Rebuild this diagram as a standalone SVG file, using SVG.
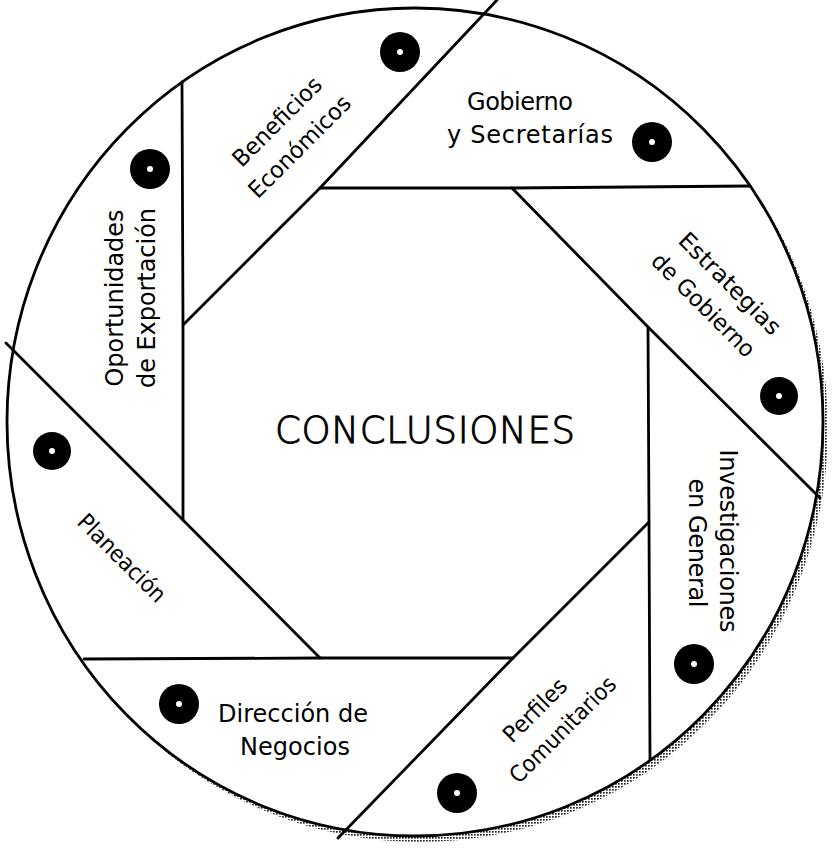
<svg xmlns="http://www.w3.org/2000/svg" width="834" height="848" viewBox="0 0 834 848">
<style>
.ln{fill:none;stroke:#000;stroke-width:2.8;stroke-linecap:round;stroke-linejoin:round}
.disc{fill:#fff;stroke:#000;stroke-width:2.8}
.lbl{font-family:"DejaVu Sans","Liberation Sans",sans-serif;font-size:24px;fill:#000;text-anchor:middle}
.dg{font-size:23px}
.ctr{font-family:"DejaVu Sans","Liberation Sans",sans-serif;font-size:37px;font-weight:200;fill:#000;stroke:#000;stroke-width:0.9;text-anchor:middle}
.dot{fill:#000}
.hole{fill:#fff}
</style>
<defs>
<pattern id="ht" width="3" height="3" patternUnits="userSpaceOnUse">
<rect width="3" height="3" fill="#fff"/>
<rect width="1.7" height="1.7" fill="#222"/>
</pattern>
</defs>
<rect width="834" height="848" fill="#fff"/>
<g id="frame">
<ellipse cx="420" cy="428" rx="408" ry="414" fill="url(#ht)"/>
<ellipse class="disc" cx="415" cy="422" rx="408" ry="414"/>
</g>
<g id="connectors">
<polygon class="ln" points="320,188 512,188 648,327 649,522 513,658 320,658 183,520 183,325"/>
<line class="ln" x1="320" y1="188" x2="497" y2="0"/>
<line class="ln" x1="512" y1="188" x2="750" y2="186"/>
<line class="ln" x1="648" y1="327" x2="820" y2="498"/>
<line class="ln" x1="649" y1="522" x2="650" y2="760"/>
<line class="ln" x1="513" y1="658" x2="338" y2="838"/>
<line class="ln" x1="320" y1="658" x2="84" y2="659"/>
<line class="ln" x1="183" y1="520" x2="6" y2="343"/>
<line class="ln" x1="183" y1="325" x2="182" y2="82"/>
</g>
<g id="conclusiones">
<text class="ctr" x="425" y="443" textLength="300">CONCLUSIONES</text>
</g>
<g id="beneficios">
<circle class="dot" cx="400" cy="52" r="20"/><circle class="hole" cx="400" cy="52" r="3"/>
<text class="lbl dg" transform="translate(277,121.5) rotate(-45)" y="8" textLength="116" lengthAdjust="spacingAndGlyphs">Beneficios</text>
<text class="lbl dg" transform="translate(299.5,146.5) rotate(-45)" y="8" textLength="134" lengthAdjust="spacingAndGlyphs">Económicos</text>
</g>
<g id="gobierno">
<circle class="dot" cx="652" cy="142" r="20"/><circle class="hole" cx="652" cy="142" r="3"/>
<text class="lbl" x="520" y="110" textLength="106">Gobierno</text>
<text class="lbl" x="530" y="143" textLength="166">y Secretarías</text>
</g>
<g id="estrategias">
<circle class="dot" cx="779" cy="396" r="19"/><circle class="hole" cx="779" cy="396" r="3"/>
<text class="lbl dg" transform="translate(730,283.5) rotate(45)" y="8" textLength="134" lengthAdjust="spacingAndGlyphs">Estrategias</text>
<text class="lbl dg" transform="translate(703.5,305) rotate(45)" y="8" textLength="136" lengthAdjust="spacingAndGlyphs">de Gobierno</text>
</g>
<g id="investigaciones">
<circle class="dot" cx="694" cy="664" r="20"/><circle class="hole" cx="694" cy="664" r="3"/>
<text class="lbl" transform="translate(720,541) rotate(90)" textLength="183">Investigaciones</text>
<text class="lbl" transform="translate(689,543) rotate(90)" textLength="129">en General</text>
</g>
<g id="perfiles">
<circle class="dot" cx="457" cy="793" r="20"/><circle class="hole" cx="457" cy="793" r="3"/>
<text class="lbl dg" transform="translate(535,710) rotate(-45)" y="8" textLength="80" lengthAdjust="spacingAndGlyphs">Perfiles</text>
<text class="lbl dg" transform="translate(562.5,729.5) rotate(-45)" y="8" textLength="140" lengthAdjust="spacingAndGlyphs">Comunitarios</text>
</g>
<g id="direccion">
<circle class="dot" cx="179" cy="704" r="20"/><circle class="hole" cx="179" cy="704" r="3"/>
<text class="lbl" x="293" y="722" textLength="150">Dirección de</text>
<text class="lbl" x="295" y="755" textLength="110">Negocios</text>
</g>
<g id="planeacion">
<circle class="dot" cx="52" cy="451" r="19"/><circle class="hole" cx="52" cy="451" r="3"/>
<text class="lbl dg" transform="translate(122,558) rotate(45)" y="8" textLength="114" lengthAdjust="spacingAndGlyphs">Planeación</text>
</g>
<g id="oportunidades">
<circle class="dot" cx="150" cy="169" r="20"/><circle class="hole" cx="150" cy="169" r="3"/>
<text class="lbl" transform="translate(123,298) rotate(-90)" textLength="177">Oportunidades</text>
<text class="lbl" transform="translate(155,298) rotate(-90)" textLength="180">de Exportación</text>
</g>
</svg>
